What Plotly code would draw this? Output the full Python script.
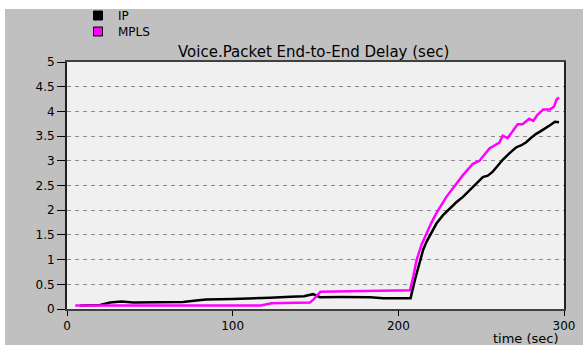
import plotly.graph_objects as go

# ---- data ----
ip_time = [8, 15, 20, 26, 33, 40, 55, 70, 78, 84, 100, 115, 122.5, 135, 143, 148.5, 152.7,
           165, 183, 191, 200, 207.4, 210, 213, 215, 217, 220, 223, 227, 231, 235, 239, 243, 247,
           251, 254, 257, 260, 263, 267, 271, 274, 277, 280, 283, 286, 289.5, 292, 294.5, 297]
ip_delay = [0.07, 0.07, 0.08, 0.13, 0.15, 0.13, 0.13, 0.14, 0.17, 0.19, 0.20, 0.21, 0.23, 0.25, 0.26, 0.30, 0.24,
            0.245, 0.24, 0.22, 0.22, 0.22, 0.59, 0.99, 1.20, 1.36, 1.56, 1.73, 1.90, 2.04, 2.16, 2.27, 2.41, 2.54,
            2.67, 2.70, 2.78, 2.90, 3.02, 3.15, 3.27, 3.31, 3.37, 3.46, 3.54, 3.60, 3.67, 3.73, 3.79, 3.78]

mpls_time = [5, 20, 50, 80, 100, 117, 123.5, 135, 146.6, 149, 153, 170, 190, 207, 209, 211, 214, 217,
             220, 223, 229, 234, 239, 245, 249, 255, 258, 261, 263, 266, 269, 272, 275, 279, 281.5,
             284, 287.5, 291.5, 294, 295.5, 297]
mpls_delay = [0.07, 0.07, 0.07, 0.07, 0.07, 0.07, 0.115, 0.12, 0.13, 0.20, 0.35, 0.36, 0.37, 0.38, 0.65, 0.99, 1.30, 1.53,
              1.75, 1.94, 2.27, 2.49, 2.71, 2.94, 3.00, 3.25, 3.31, 3.37, 3.51, 3.46, 3.60, 3.74, 3.74, 3.85, 3.81,
              3.93, 4.04, 4.04, 4.10, 4.24, 4.28]

series_names = ["IP", "MPLS"]
series_colors = ["#000000", "#ff00ff"]

x_ticks = [0, 100, 200, 300]
y_ticks = [0, 0.5, 1, 1.5, 2, 2.5, 3, 3.5, 4, 4.5, 5]

title_text = "Voice.Packet End-to-End Delay (sec)"
x_title = "time (sec)"

# ---- figure ----
W, H = 583, 345
L, R, T, B = 67, 19, 62, 36
pw, ph = W - L - R, H - T - B

fig = go.Figure()
for t, v, name, col in [(ip_time, ip_delay, series_names[0], series_colors[0]),
                        (mpls_time, mpls_delay, series_names[1], series_colors[1])]:
    fig.add_trace(go.Scatter(x=t, y=v, mode="lines", name=name,
                             line=dict(color=col, width=2.5), showlegend=False))

# legend entries as squares, one legend per entry for exact row spacing
legend_ids = ["legend", "legend2"]
for name, col, lg in zip(series_names, series_colors, legend_ids):
    fig.add_trace(go.Scatter(x=[None], y=[None], mode="markers", name=name, legend=lg,
                             marker=dict(symbol="square", size=9, color=col,
                                         line=dict(color="#000000", width=1))))

fnt = "DejaVu Sans"
legend_common = dict(x=78 / W, xref="container", yref="container",
                     xanchor="left", yanchor="top",
                     bgcolor="rgba(0,0,0,0)", font=dict(family=fnt, size=12),
                     itemwidth=30)
fig.update_layout(
    width=W, height=H,
    margin=dict(l=L, r=R, t=T, b=B, pad=0, autoexpand=False),
    paper_bgcolor="#c0c0c0",
    plot_bgcolor="#f0f0f0",
    font=dict(family=fnt, size=12, color="#000000"),
    showlegend=True,
    legend=dict(y=1 - 1 / H, **legend_common),
    legend2=dict(y=1 - 17 / H, **legend_common),
    xaxis=dict(range=[0, 300], tickvals=x_ticks, ticks="outside", ticklen=5, tickwidth=1,
               tickcolor="#000000", showgrid=False, zeroline=False,
               showline=True, linecolor="#404040", linewidth=2, mirror=True,
               tickfont=dict(family=fnt, size=12)),
    yaxis=dict(range=[0, 5], tickvals=y_ticks, ticks="outside", ticklen=8, tickwidth=1,
               tickcolor="#000000", showgrid=True, gridcolor="#8a8a8a", griddash="4px,4px",
               gridwidth=1, zeroline=False,
               showline=True, linecolor="#202020", linewidth=2, mirror=True,
               tickfont=dict(family=fnt, size=12)),
    annotations=[
        dict(text=title_text, xref="paper", yref="paper", x=(313 - L) / pw, y=(H - B - 52) / ph,
             xanchor="center", yanchor="middle", showarrow=False,
             font=dict(family=fnt, size=15, color="#000000")),
        dict(text=x_title, xref="paper", yref="paper", x=(561 - L) / pw, y=(H - B - 338) / ph,
             xanchor="right", yanchor="middle", showarrow=False,
             font=dict(family=fnt, size=13, color="#000000")),
    ],
    shapes=[
        dict(type="rect", xref="paper", yref="paper", x0=-L / pw, x1=(W - L) / pw,
             y0=(H - B - 9) / ph, y1=(H - B + 2) / ph, fillcolor="#ffffff", line=dict(width=0),
             layer="below"),
        dict(type="rect", xref="paper", yref="paper", x0=(-L - 2) / pw, x1=(5 - L) / pw,
             y0=-B / ph, y1=(H - B) / ph, fillcolor="#ffffff", line=dict(width=0),
             layer="below"),
    ],
)

fig.write_html("out.html")
